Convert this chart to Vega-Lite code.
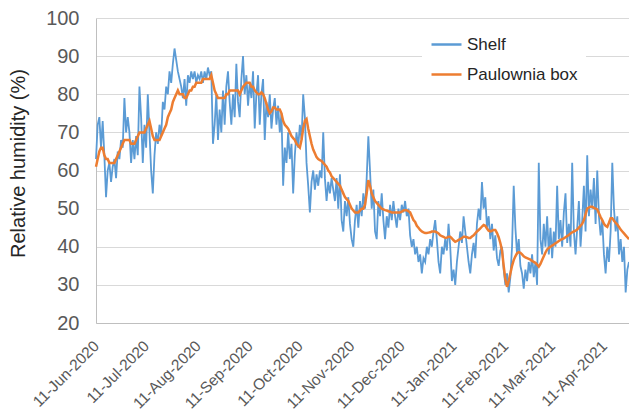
{
  "$schema": "https://vega.github.io/schema/vega-lite/v6.json",
  "width": 533,
  "height": 305,
  "autosize": "none",
  "padding": {"left": 96, "top": 18, "right": 0, "bottom": 90},
  "background": "white",
  "view": {"stroke": null},
  "config": {"font": "Liberation Sans"},
  "data": {"values": [
    {"t":"2020-06-11","Shelf":63,"Paulownia box":61},{"t":"2020-06-12","Shelf":72,"Paulownia box":63},{"t":"2020-06-13","Shelf":74,"Paulownia box":65},{"t":"2020-06-14","Shelf":66,"Paulownia box":66},{"t":"2020-06-15","Shelf":73,"Paulownia box":66},{"t":"2020-06-16","Shelf":64,"Paulownia box":64},{"t":"2020-06-17","Shelf":53,"Paulownia box":63},{"t":"2020-06-18","Shelf":60,"Paulownia box":63},{"t":"2020-06-19","Shelf":62,"Paulownia box":62},{"t":"2020-06-20","Shelf":57,"Paulownia box":62},
    {"t":"2020-06-21","Shelf":61,"Paulownia box":62},{"t":"2020-06-22","Shelf":63,"Paulownia box":62},{"t":"2020-06-23","Shelf":58,"Paulownia box":63},{"t":"2020-06-24","Shelf":65,"Paulownia box":64},{"t":"2020-06-25","Shelf":63,"Paulownia box":65},{"t":"2020-06-26","Shelf":68,"Paulownia box":66},{"t":"2020-06-27","Shelf":66,"Paulownia box":67},{"t":"2020-06-28","Shelf":79,"Paulownia box":68},{"t":"2020-06-29","Shelf":70,"Paulownia box":68},{"t":"2020-06-30","Shelf":74,"Paulownia box":68},
    {"t":"2020-07-01","Shelf":70,"Paulownia box":68},{"t":"2020-07-02","Shelf":62,"Paulownia box":67},{"t":"2020-07-03","Shelf":68,"Paulownia box":67},{"t":"2020-07-04","Shelf":63,"Paulownia box":67},{"t":"2020-07-05","Shelf":69,"Paulownia box":68},{"t":"2020-07-06","Shelf":64,"Paulownia box":69},{"t":"2020-07-07","Shelf":82,"Paulownia box":70},{"t":"2020-07-08","Shelf":74,"Paulownia box":70},{"t":"2020-07-09","Shelf":62,"Paulownia box":70},{"t":"2020-07-10","Shelf":72,"Paulownia box":70},
    {"t":"2020-07-11","Shelf":66,"Paulownia box":71},{"t":"2020-07-12","Shelf":80,"Paulownia box":72},{"t":"2020-07-13","Shelf":70,"Paulownia box":73},{"t":"2020-07-14","Shelf":60,"Paulownia box":71},{"t":"2020-07-15","Shelf":54,"Paulownia box":69},{"t":"2020-07-16","Shelf":64,"Paulownia box":68},{"t":"2020-07-17","Shelf":70,"Paulownia box":68},{"t":"2020-07-18","Shelf":67,"Paulownia box":68},{"t":"2020-07-19","Shelf":72,"Paulownia box":68},{"t":"2020-07-20","Shelf":69,"Paulownia box":69},
    {"t":"2020-07-21","Shelf":78,"Paulownia box":70},{"t":"2020-07-22","Shelf":76,"Paulownia box":71},{"t":"2020-07-23","Shelf":82,"Paulownia box":72},{"t":"2020-07-24","Shelf":80,"Paulownia box":74},{"t":"2020-07-25","Shelf":86,"Paulownia box":75},{"t":"2020-07-26","Shelf":83,"Paulownia box":76},{"t":"2020-07-27","Shelf":88,"Paulownia box":78},{"t":"2020-07-28","Shelf":92,"Paulownia box":79},{"t":"2020-07-29","Shelf":89,"Paulownia box":80},{"t":"2020-07-30","Shelf":86,"Paulownia box":81},
    {"t":"2020-07-31","Shelf":84,"Paulownia box":80},
    {"t":"2020-08-01","Shelf":82,"Paulownia box":80},{"t":"2020-08-02","Shelf":79,"Paulownia box":80},{"t":"2020-08-03","Shelf":84,"Paulownia box":79},{"t":"2020-08-04","Shelf":77,"Paulownia box":79},{"t":"2020-08-05","Shelf":85,"Paulownia box":80},{"t":"2020-08-06","Shelf":83,"Paulownia box":81},{"t":"2020-08-07","Shelf":86,"Paulownia box":81},{"t":"2020-08-08","Shelf":84,"Paulownia box":82},{"t":"2020-08-09","Shelf":86,"Paulownia box":82},{"t":"2020-08-10","Shelf":83,"Paulownia box":83},
    {"t":"2020-08-11","Shelf":85,"Paulownia box":83},{"t":"2020-08-12","Shelf":84,"Paulownia box":83},{"t":"2020-08-13","Shelf":86,"Paulownia box":83},{"t":"2020-08-14","Shelf":83,"Paulownia box":84},{"t":"2020-08-15","Shelf":86,"Paulownia box":84},{"t":"2020-08-16","Shelf":84,"Paulownia box":84},{"t":"2020-08-17","Shelf":87,"Paulownia box":84},{"t":"2020-08-18","Shelf":85,"Paulownia box":84},{"t":"2020-08-19","Shelf":86,"Paulownia box":85},{"t":"2020-08-20","Shelf":67,"Paulownia box":83},
    {"t":"2020-08-21","Shelf":72,"Paulownia box":81},{"t":"2020-08-22","Shelf":80,"Paulownia box":80},{"t":"2020-08-23","Shelf":68,"Paulownia box":79},{"t":"2020-08-24","Shelf":76,"Paulownia box":79},{"t":"2020-08-25","Shelf":70,"Paulownia box":79},{"t":"2020-08-26","Shelf":81,"Paulownia box":79},{"t":"2020-08-27","Shelf":72,"Paulownia box":79},{"t":"2020-08-28","Shelf":82,"Paulownia box":80},{"t":"2020-08-29","Shelf":86,"Paulownia box":80},{"t":"2020-08-30","Shelf":78,"Paulownia box":81},
    {"t":"2020-08-31","Shelf":72,"Paulownia box":81},
    {"t":"2020-09-01","Shelf":80,"Paulownia box":81},{"t":"2020-09-02","Shelf":74,"Paulownia box":81},{"t":"2020-09-03","Shelf":88,"Paulownia box":81},{"t":"2020-09-04","Shelf":78,"Paulownia box":81},{"t":"2020-09-05","Shelf":74,"Paulownia box":80},{"t":"2020-09-06","Shelf":84,"Paulownia box":81},{"t":"2020-09-07","Shelf":90,"Paulownia box":82},{"t":"2020-09-08","Shelf":80,"Paulownia box":82.5},{"t":"2020-09-09","Shelf":85,"Paulownia box":83},{"t":"2020-09-10","Shelf":77,"Paulownia box":83},
    {"t":"2020-09-11","Shelf":83,"Paulownia box":83},{"t":"2020-09-12","Shelf":79,"Paulownia box":82},{"t":"2020-09-13","Shelf":86,"Paulownia box":82},{"t":"2020-09-14","Shelf":71,"Paulownia box":81},{"t":"2020-09-15","Shelf":80,"Paulownia box":80.5},{"t":"2020-09-16","Shelf":85,"Paulownia box":80},{"t":"2020-09-17","Shelf":72,"Paulownia box":80},{"t":"2020-09-18","Shelf":80,"Paulownia box":80.5},{"t":"2020-09-19","Shelf":84,"Paulownia box":80},{"t":"2020-09-20","Shelf":68,"Paulownia box":79},
    {"t":"2020-09-21","Shelf":78,"Paulownia box":77.5},{"t":"2020-09-22","Shelf":74,"Paulownia box":76},{"t":"2020-09-23","Shelf":80,"Paulownia box":75},{"t":"2020-09-24","Shelf":71,"Paulownia box":75.5},{"t":"2020-09-25","Shelf":76,"Paulownia box":76.5},{"t":"2020-09-26","Shelf":79,"Paulownia box":76.5},{"t":"2020-09-27","Shelf":72,"Paulownia box":76},{"t":"2020-09-28","Shelf":77,"Paulownia box":76},{"t":"2020-09-29","Shelf":70,"Paulownia box":76},{"t":"2020-09-30","Shelf":75,"Paulownia box":75},
    {"t":"2020-10-01","Shelf":56,"Paulownia box":73},{"t":"2020-10-02","Shelf":66,"Paulownia box":72},{"t":"2020-10-03","Shelf":62,"Paulownia box":71.5},{"t":"2020-10-04","Shelf":70,"Paulownia box":71},{"t":"2020-10-05","Shelf":63,"Paulownia box":70},{"t":"2020-10-06","Shelf":67,"Paulownia box":69},{"t":"2020-10-07","Shelf":54,"Paulownia box":68.5},{"t":"2020-10-08","Shelf":64,"Paulownia box":68},{"t":"2020-10-09","Shelf":70,"Paulownia box":67},{"t":"2020-10-10","Shelf":66,"Paulownia box":66.5},
    {"t":"2020-10-11","Shelf":72,"Paulownia box":66},{"t":"2020-10-12","Shelf":68,"Paulownia box":68},{"t":"2020-10-13","Shelf":80,"Paulownia box":71},{"t":"2020-10-14","Shelf":74,"Paulownia box":73},{"t":"2020-10-15","Shelf":62,"Paulownia box":73.5},{"t":"2020-10-16","Shelf":56,"Paulownia box":71},{"t":"2020-10-17","Shelf":49,"Paulownia box":69},{"t":"2020-10-18","Shelf":57,"Paulownia box":67},{"t":"2020-10-19","Shelf":60,"Paulownia box":65.5},{"t":"2020-10-20","Shelf":55,"Paulownia box":64.5},
    {"t":"2020-10-21","Shelf":59,"Paulownia box":63.5},{"t":"2020-10-22","Shelf":56,"Paulownia box":63},{"t":"2020-10-23","Shelf":60,"Paulownia box":62.7},{"t":"2020-10-24","Shelf":58,"Paulownia box":62.5},{"t":"2020-10-25","Shelf":70,"Paulownia box":62},{"t":"2020-10-26","Shelf":58,"Paulownia box":61.5},{"t":"2020-10-27","Shelf":52,"Paulownia box":61},{"t":"2020-10-28","Shelf":57,"Paulownia box":60},{"t":"2020-10-29","Shelf":54,"Paulownia box":59.5},{"t":"2020-10-30","Shelf":58,"Paulownia box":58.5},
    {"t":"2020-10-31","Shelf":55,"Paulownia box":58},
    {"t":"2020-11-01","Shelf":52,"Paulownia box":57.5},{"t":"2020-11-02","Shelf":58,"Paulownia box":57},{"t":"2020-11-03","Shelf":50,"Paulownia box":56.5},{"t":"2020-11-04","Shelf":59,"Paulownia box":56},{"t":"2020-11-05","Shelf":47,"Paulownia box":55},{"t":"2020-11-06","Shelf":44,"Paulownia box":54},{"t":"2020-11-07","Shelf":52,"Paulownia box":53},{"t":"2020-11-08","Shelf":48,"Paulownia box":52.5},{"t":"2020-11-09","Shelf":53,"Paulownia box":52},{"t":"2020-11-10","Shelf":46,"Paulownia box":51},
    {"t":"2020-11-11","Shelf":42,"Paulownia box":50},{"t":"2020-11-12","Shelf":40,"Paulownia box":49.5},{"t":"2020-11-13","Shelf":47,"Paulownia box":49},{"t":"2020-11-14","Shelf":51,"Paulownia box":49},{"t":"2020-11-15","Shelf":45,"Paulownia box":49},{"t":"2020-11-16","Shelf":52,"Paulownia box":49.5},{"t":"2020-11-17","Shelf":48,"Paulownia box":50},{"t":"2020-11-18","Shelf":54,"Paulownia box":50},{"t":"2020-11-19","Shelf":50,"Paulownia box":51},{"t":"2020-11-20","Shelf":58,"Paulownia box":54},
    {"t":"2020-11-21","Shelf":69,"Paulownia box":57.5},{"t":"2020-11-22","Shelf":60,"Paulownia box":56},{"t":"2020-11-23","Shelf":50,"Paulownia box":54},{"t":"2020-11-24","Shelf":55,"Paulownia box":53},{"t":"2020-11-25","Shelf":44,"Paulownia box":52},{"t":"2020-11-26","Shelf":42,"Paulownia box":51.5},{"t":"2020-11-27","Shelf":52,"Paulownia box":51},{"t":"2020-11-28","Shelf":48,"Paulownia box":50.5},{"t":"2020-11-29","Shelf":54,"Paulownia box":50},{"t":"2020-11-30","Shelf":47,"Paulownia box":49.8},
    {"t":"2020-12-01","Shelf":42,"Paulownia box":49.6},{"t":"2020-12-02","Shelf":48,"Paulownia box":49.5},{"t":"2020-12-03","Shelf":45,"Paulownia box":49.3},{"t":"2020-12-04","Shelf":51,"Paulownia box":49.2},{"t":"2020-12-05","Shelf":47,"Paulownia box":49},{"t":"2020-12-06","Shelf":52,"Paulownia box":49},{"t":"2020-12-07","Shelf":48,"Paulownia box":49},{"t":"2020-12-08","Shelf":45,"Paulownia box":49},{"t":"2020-12-09","Shelf":50,"Paulownia box":49},{"t":"2020-12-10","Shelf":47,"Paulownia box":49},
    {"t":"2020-12-11","Shelf":51,"Paulownia box":49.2},{"t":"2020-12-12","Shelf":49,"Paulownia box":49.5},{"t":"2020-12-13","Shelf":52,"Paulownia box":49.6},{"t":"2020-12-14","Shelf":48,"Paulownia box":49.6},{"t":"2020-12-15","Shelf":50,"Paulownia box":49.3},{"t":"2020-12-16","Shelf":43,"Paulownia box":49},{"t":"2020-12-17","Shelf":40,"Paulownia box":48},{"t":"2020-12-18","Shelf":42,"Paulownia box":47},{"t":"2020-12-19","Shelf":38,"Paulownia box":46.5},{"t":"2020-12-20","Shelf":40,"Paulownia box":45.5},
    {"t":"2020-12-21","Shelf":36,"Paulownia box":45},{"t":"2020-12-22","Shelf":38,"Paulownia box":44.4},{"t":"2020-12-23","Shelf":33,"Paulownia box":44},{"t":"2020-12-24","Shelf":37,"Paulownia box":43.8},{"t":"2020-12-25","Shelf":36,"Paulownia box":43.6},{"t":"2020-12-26","Shelf":40,"Paulownia box":43.6},{"t":"2020-12-27","Shelf":38,"Paulownia box":43.7},{"t":"2020-12-28","Shelf":42,"Paulownia box":43.8},{"t":"2020-12-29","Shelf":40,"Paulownia box":44},{"t":"2020-12-30","Shelf":44,"Paulownia box":44},
    {"t":"2020-12-31","Shelf":47,"Paulownia box":44},
    {"t":"2021-01-01","Shelf":42,"Paulownia box":43.8},{"t":"2021-01-02","Shelf":36,"Paulownia box":43.5},{"t":"2021-01-03","Shelf":33,"Paulownia box":43},{"t":"2021-01-04","Shelf":40,"Paulownia box":42.8},{"t":"2021-01-05","Shelf":38,"Paulownia box":42.6},{"t":"2021-01-06","Shelf":42,"Paulownia box":42.3},{"t":"2021-01-07","Shelf":39,"Paulownia box":42.4},{"t":"2021-01-08","Shelf":46,"Paulownia box":42.6},{"t":"2021-01-09","Shelf":40,"Paulownia box":42.6},{"t":"2021-01-10","Shelf":31,"Paulownia box":42.2},
    {"t":"2021-01-11","Shelf":34,"Paulownia box":41.7},{"t":"2021-01-12","Shelf":30,"Paulownia box":41.3},{"t":"2021-01-13","Shelf":36,"Paulownia box":41.5},{"t":"2021-01-14","Shelf":40,"Paulownia box":41.8},{"t":"2021-01-15","Shelf":44,"Paulownia box":42},{"t":"2021-01-16","Shelf":41,"Paulownia box":42.3},{"t":"2021-01-17","Shelf":48,"Paulownia box":42.6},{"t":"2021-01-18","Shelf":44,"Paulownia box":42.6},{"t":"2021-01-19","Shelf":40,"Paulownia box":42.5},{"t":"2021-01-20","Shelf":36,"Paulownia box":42.3},
    {"t":"2021-01-21","Shelf":33,"Paulownia box":42.3},{"t":"2021-01-22","Shelf":38,"Paulownia box":42.7},{"t":"2021-01-23","Shelf":41,"Paulownia box":43},{"t":"2021-01-24","Shelf":37,"Paulownia box":43.5},{"t":"2021-01-25","Shelf":46,"Paulownia box":44},{"t":"2021-01-26","Shelf":50,"Paulownia box":44.4},{"t":"2021-01-27","Shelf":47,"Paulownia box":44.8},{"t":"2021-01-28","Shelf":57,"Paulownia box":45.3},{"t":"2021-01-29","Shelf":50,"Paulownia box":45.7},{"t":"2021-01-30","Shelf":53,"Paulownia box":45.5},
    {"t":"2021-01-31","Shelf":45,"Paulownia box":44.8},
    {"t":"2021-02-01","Shelf":48,"Paulownia box":44.2},{"t":"2021-02-02","Shelf":42,"Paulownia box":44},{"t":"2021-02-03","Shelf":46,"Paulownia box":44.2},{"t":"2021-02-04","Shelf":39,"Paulownia box":44.4},{"t":"2021-02-05","Shelf":43,"Paulownia box":44.4},{"t":"2021-02-06","Shelf":37,"Paulownia box":43.6},{"t":"2021-02-07","Shelf":35,"Paulownia box":42.5},{"t":"2021-02-08","Shelf":39,"Paulownia box":41},{"t":"2021-02-09","Shelf":40,"Paulownia box":39},{"t":"2021-02-10","Shelf":34,"Paulownia box":35},
    {"t":"2021-02-11","Shelf":30,"Paulownia box":31.5},{"t":"2021-02-12","Shelf":33,"Paulownia box":29.5},{"t":"2021-02-13","Shelf":28,"Paulownia box":31},{"t":"2021-02-14","Shelf":32,"Paulownia box":33},{"t":"2021-02-15","Shelf":40,"Paulownia box":35},{"t":"2021-02-16","Shelf":56,"Paulownia box":36.5},{"t":"2021-02-17","Shelf":45,"Paulownia box":37.5},{"t":"2021-02-18","Shelf":38,"Paulownia box":38.3},{"t":"2021-02-19","Shelf":42,"Paulownia box":38.6},{"t":"2021-02-20","Shelf":35,"Paulownia box":38.4},
    {"t":"2021-02-21","Shelf":33,"Paulownia box":38},{"t":"2021-02-22","Shelf":29,"Paulownia box":37.5},{"t":"2021-02-23","Shelf":34,"Paulownia box":37.2},{"t":"2021-02-24","Shelf":31,"Paulownia box":37},{"t":"2021-02-25","Shelf":36,"Paulownia box":36.8},{"t":"2021-02-26","Shelf":33,"Paulownia box":36.6},{"t":"2021-02-27","Shelf":38,"Paulownia box":36.3},{"t":"2021-02-28","Shelf":32,"Paulownia box":36},
    {"t":"2021-03-01","Shelf":36,"Paulownia box":35.8},{"t":"2021-03-02","Shelf":30,"Paulownia box":35.3},{"t":"2021-03-03","Shelf":62,"Paulownia box":34.8},{"t":"2021-03-04","Shelf":42,"Paulownia box":35.5},{"t":"2021-03-05","Shelf":38,"Paulownia box":36.5},{"t":"2021-03-06","Shelf":46,"Paulownia box":37.5},{"t":"2021-03-07","Shelf":40,"Paulownia box":38.5},{"t":"2021-03-08","Shelf":48,"Paulownia box":39.3},{"t":"2021-03-09","Shelf":38,"Paulownia box":39.7},{"t":"2021-03-10","Shelf":45,"Paulownia box":40},
    {"t":"2021-03-11","Shelf":37,"Paulownia box":40.3},{"t":"2021-03-12","Shelf":44,"Paulownia box":40.6},{"t":"2021-03-13","Shelf":40,"Paulownia box":40.9},{"t":"2021-03-14","Shelf":56,"Paulownia box":41.2},{"t":"2021-03-15","Shelf":42,"Paulownia box":41.5},{"t":"2021-03-16","Shelf":47,"Paulownia box":41.8},{"t":"2021-03-17","Shelf":40,"Paulownia box":42},{"t":"2021-03-18","Shelf":49,"Paulownia box":42.2},{"t":"2021-03-19","Shelf":54,"Paulownia box":42.5},{"t":"2021-03-20","Shelf":41,"Paulownia box":42.8},
    {"t":"2021-03-21","Shelf":46,"Paulownia box":43.1},{"t":"2021-03-22","Shelf":40,"Paulownia box":43.5},{"t":"2021-03-23","Shelf":62,"Paulownia box":43.8},{"t":"2021-03-24","Shelf":44,"Paulownia box":44},{"t":"2021-03-25","Shelf":38,"Paulownia box":44.2},{"t":"2021-03-26","Shelf":45,"Paulownia box":44.5},{"t":"2021-03-27","Shelf":52,"Paulownia box":45},{"t":"2021-03-28","Shelf":40,"Paulownia box":45.5},{"t":"2021-03-29","Shelf":47,"Paulownia box":46},{"t":"2021-03-30","Shelf":56,"Paulownia box":47},
    {"t":"2021-03-31","Shelf":44,"Paulownia box":48.5},
    {"t":"2021-04-01","Shelf":64,"Paulownia box":50},{"t":"2021-04-02","Shelf":48,"Paulownia box":50.3},{"t":"2021-04-03","Shelf":55,"Paulownia box":50.5},{"t":"2021-04-04","Shelf":50,"Paulownia box":50.5},{"t":"2021-04-05","Shelf":58,"Paulownia box":50.2},{"t":"2021-04-06","Shelf":46,"Paulownia box":50},{"t":"2021-04-07","Shelf":60,"Paulownia box":49.8},{"t":"2021-04-08","Shelf":48,"Paulownia box":48.8},{"t":"2021-04-09","Shelf":43,"Paulownia box":47.8},{"t":"2021-04-10","Shelf":47,"Paulownia box":47},
    {"t":"2021-04-11","Shelf":38,"Paulownia box":46},{"t":"2021-04-12","Shelf":33,"Paulownia box":45.5},{"t":"2021-04-13","Shelf":40,"Paulownia box":45.2},{"t":"2021-04-14","Shelf":36,"Paulownia box":46.3},{"t":"2021-04-15","Shelf":44,"Paulownia box":47.5},{"t":"2021-04-16","Shelf":62,"Paulownia box":47.5},{"t":"2021-04-17","Shelf":50,"Paulownia box":46.8},{"t":"2021-04-18","Shelf":44,"Paulownia box":46.3},{"t":"2021-04-19","Shelf":48,"Paulownia box":45.8},{"t":"2021-04-20","Shelf":38,"Paulownia box":45.2},
    {"t":"2021-04-21","Shelf":42,"Paulownia box":44.5},{"t":"2021-04-22","Shelf":36,"Paulownia box":44},{"t":"2021-04-23","Shelf":40,"Paulownia box":43.5},{"t":"2021-04-24","Shelf":28,"Paulownia box":43},{"t":"2021-04-25","Shelf":34,"Paulownia box":42.5},{"t":"2021-04-26","Shelf":36,"Paulownia box":42}
  ]},
  "transform": [{"fold": ["Shelf", "Paulownia box"], "as": ["series", "rh"]}],
  "encoding": {
    "x": {
      "field": "t", "type": "temporal",
      "scale": {"type": "utc", "domain": [{"year": 2020, "month": 6, "date": 11, "utc": true}, {"year": 2021, "month": 4, "date": 26, "utc": true}]},
      "axis": {
        "title": null, "grid": false, "ticks": false,
        "domain": true, "domainColor": "#bfbfbf", "domainWidth": 1,
        "values": [
          {"year": 2020, "month": 6, "date": 11, "utc": true},
          {"year": 2020, "month": 7, "date": 11, "utc": true},
          {"year": 2020, "month": 8, "date": 11, "utc": true},
          {"year": 2020, "month": 9, "date": 11, "utc": true},
          {"year": 2020, "month": 10, "date": 11, "utc": true},
          {"year": 2020, "month": 11, "date": 11, "utc": true},
          {"year": 2020, "month": 12, "date": 11, "utc": true},
          {"year": 2021, "month": 1, "date": 11, "utc": true},
          {"year": 2021, "month": 2, "date": 11, "utc": true},
          {"year": 2021, "month": 3, "date": 11, "utc": true},
          {"year": 2021, "month": 4, "date": 11, "utc": true}
        ],
        "labelExpr": "utcFormat(datum.value, '%d-%b-%Y')",
        "labelAngle": -45, "labelAlign": "right", "labelBaseline": "middle",
        "labelPadding": 20, "labelFontSize": 15.5, "labelColor": "#595959",
        "labelFont": "Liberation Sans", "labelOverlap": false, "labelFlush": false, "labelBound": false
      }
    },
    "y": {
      "field": "rh", "type": "quantitative",
      "scale": {"domain": [20, 100], "nice": false, "zero": false},
      "axis": {
        "values": [20, 30, 40, 50, 60, 70, 80, 90, 100],
        "grid": true, "gridColor": "#d9d9d9", "gridWidth": 1,
        "ticks": false, "domain": true, "domainColor": "#bfbfbf",
        "labelFontSize": 20, "labelColor": "#595959", "labelFont": "Liberation Sans", "labelPadding": 17,
        "title": "Relative humidity (%)", "titleFontSize": 20, "titleFont": "Liberation Sans",
        "titleFontWeight": "normal", "titleColor": "#262626",
        "titleAngle": -90, "titleX": -78, "titleY": 145, "titleAlign": "center", "titleBaseline": "middle"
      }
    },
    "color": {
      "field": "series", "type": "nominal",
      "scale": {"domain": ["Shelf", "Paulownia box"], "range": ["#5B9BD5", "#ED7D31"]},
      "legend": {
        "title": null, "orient": "none", "legendX": 326, "legendY": 2,
        "fillColor": "white", "padding": 8,
        "symbolType": "stroke", "symbolSize": 900, "symbolStrokeWidth": 2.5,
        "labelFontSize": 17, "labelFont": "Liberation Sans", "labelColor": "#262626",
        "labelOffset": 4, "rowPadding": 5
      }
    }
  },
  "layer": [
    {"transform": [{"filter": "datum.series === 'Shelf'"}], "mark": {"type": "line", "strokeWidth": 1.8, "interpolate": "linear"}},
    {"transform": [{"filter": "datum.series === 'Paulownia box'"}], "mark": {"type": "line", "strokeWidth": 2.5, "interpolate": "linear"}}
  ]
}
